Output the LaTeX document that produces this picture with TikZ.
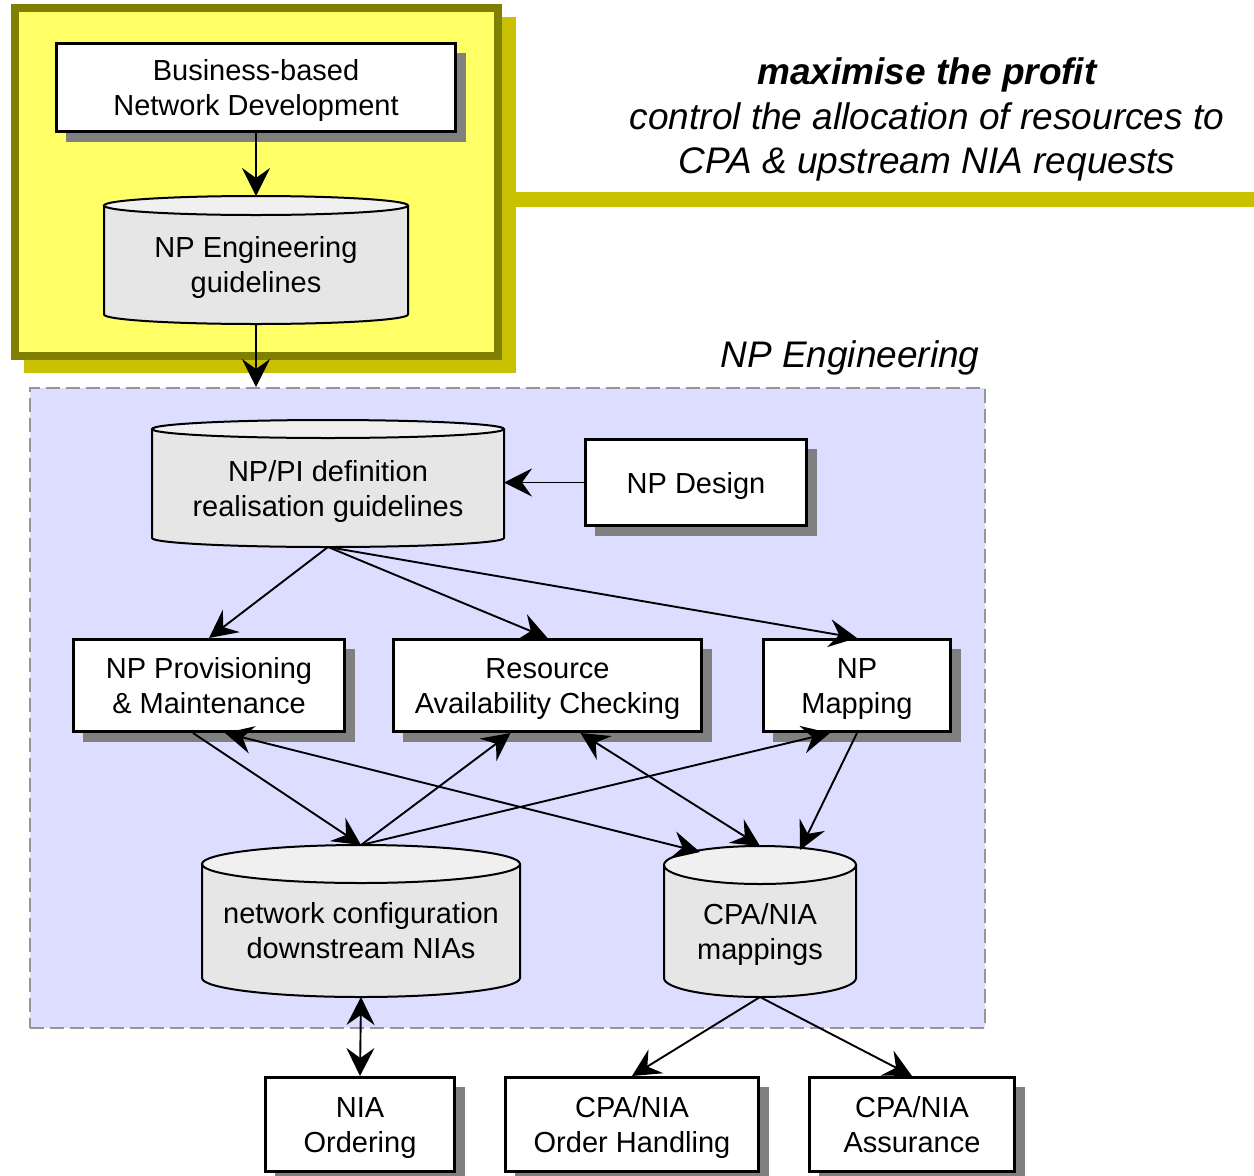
\documentclass[tikz,border=0pt]{standalone}
\usepackage{fontspec}
\setmainfont{Liberation Sans}
\usetikzlibrary{arrows.meta,shadows,calc}

\definecolor{padyellow}{RGB}{255,255,102}
\definecolor{padolive}{RGB}{128,128,0}
\definecolor{padshade}{RGB}{200,192,0}
\definecolor{engfill}{RGB}{221,221,255}
\definecolor{engdash}{RGB}{150,150,150}
\definecolor{boxshade}{RGB}{128,128,128}
\definecolor{dbbody}{RGB}{230,230,230}
\definecolor{dbtop}{RGB}{240,240,240}

% fixed first-line height and last-line depth keep every label on the same baselines
\newcommand\lnfirst{\rule{0pt}{29pt}}
\newcommand\lnlast{\rule[-8pt]{0pt}{8pt}}

\tikzset{
  boxfont/.style={font=\fontsize{29}{35}\selectfont},
  proc/.style={draw=black, line width=2.6pt, fill=white, align=center,
    inner sep=0pt, boxfont,
    drop shadow={shadow xshift=10pt, shadow yshift=-10pt, fill=boxshade, opacity=1}},
  dbarea/.style={draw=none, inner sep=0pt, outer sep=0pt},
  dblabel/.style={align=center, inner sep=0pt, boxfont},
  dbline/.style={draw=black, line width=2pt},
  engarea/.style={draw=engdash, fill=engfill, line width=2pt,
    dash pattern=on 14pt off 6pt, inner sep=0pt},
  conn/.style={line width=1.9pt, ->},
  dconn/.style={line width=1.9pt, <->},
}

% database cylinder: name, centre x, top y, bottom y, half width, ellipse radius, text
\newcommand\dbstore[7]{%
  \fill[dbbody] ({#2-#5},{-#3-#6}) -- ({#2-#5},{-#4+#6})
    arc[start angle=180, end angle=360, x radius=#5pt, y radius=#6pt]
    -- ({#2+#5},{-#3-#6})
    arc[start angle=0, end angle=180, x radius=#5pt, y radius=#6pt] -- cycle;
  \fill[dbtop] (#2,{-#3-#6}) ellipse[x radius=#5pt, y radius=#6pt];
  \draw[dbline] ({#2-#5},{-#3-#6}) -- ({#2-#5},{-#4+#6})
    arc[start angle=180, end angle=360, x radius=#5pt, y radius=#6pt]
    -- ({#2+#5},{-#3-#6});
  \draw[dbline] (#2,{-#3-#6}) ellipse[x radius=#5pt, y radius=#6pt];
  \node[dbarea, minimum width={2*#5pt}, minimum height={(#4-#3)*1pt}]
    (#1) at (#2,{-(#3+#4)/2}) {};
  \node[dblabel] (#1-text) at (#2,{-(#3+#6+#4)/2}) {\lnfirst #7\lnlast};
}

\begin{document}
\begin{tikzpicture}[x=1pt, y=1pt,
    >={Stealth[length=28pt, width=28pt, inset=10pt]}]
  \useasboundingbox (0,0) rectangle (1254,-1176);
  \clip (0,0) rectangle (1254,-1176);

  % business layer panel
  \fill[padshade] (24,-17) rectangle (516,-373);
  \fill[padshade] (500,-192) rectangle (1254,-207);
  \draw[padolive, line width=8pt, fill=padyellow] (15,-8) rectangle (498,-356);

  \node[align=center, font=\fontsize{37}{44.5}\selectfont\itshape] (goal)
    at (927,-119.5) {\textbf{maximise the profit}\\
      control the allocation of resources to\\
      CPA \& upstream NIA requests};

  % engineering area
  \node[engarea, minimum width=955pt, minimum height=640pt] (eng) at (507.5,-708) {};
  \node[anchor=base, font=\fontsize{37}{44.5}\selectfont\itshape] (engtitle)
    at (850,-367) {NP Engineering};

  % process boxes
  \node[proc, minimum width=399.4pt, minimum height=88.4pt] (biz) at (256,-87.5)
    {\lnfirst Business-based\\Network Development\lnlast};
  \node[proc, minimum width=221.4pt, minimum height=86.4pt] (design) at (696,-482.5)
    {\lnfirst NP Design\lnlast};
  \node[proc, minimum width=271.4pt, minimum height=92.4pt] (prov) at (209,-685.5)
    {\lnfirst NP Provisioning\\\& Maintenance\lnlast};
  \node[proc, minimum width=308.4pt, minimum height=92.4pt] (rac) at (547.5,-685.5)
    {\lnfirst Resource\\Availability Checking\lnlast};
  \node[proc, minimum width=187.4pt, minimum height=92.4pt] (map) at (857,-685.5)
    {\lnfirst NP\\Mapping\lnlast};
  \node[proc, minimum width=189.4pt, minimum height=94.4pt] (order) at (360,-1124.5)
    {\lnfirst NIA\\Ordering\lnlast};
  \node[proc, minimum width=253.4pt, minimum height=94.4pt] (handle) at (632,-1124.5)
    {\lnfirst CPA/NIA\\Order Handling\lnlast};
  \node[proc, minimum width=205.4pt, minimum height=94.4pt] (assure) at (912,-1124.5)
    {\lnfirst CPA/NIA\\Assurance\lnlast};

  % data stores
  \dbstore{guide}{256}{196}{324}{152}{9.5}{NP Engineering\\guidelines}
  \dbstore{npdef}{328}{420}{547}{176}{9}{NP/PI definition\\realisation guidelines}
  \dbstore{ncfg}{361}{845}{997}{159}{19}{network configuration\\downstream NIAs}
  \dbstore{cpa}{760}{846}{997}{96}{19}{CPA/NIA\\mappings}

  % connectors
  \draw[conn] (biz.south) -- (guide.north);
  \draw[conn] (guide.south) -- (guide.south |- eng.north);
  \draw[conn] (design.west) -- (design.west -| npdef.east);
  \draw[conn] (npdef.south) -- (prov.north);
  \draw[conn] (npdef.south) -- (rac.north);
  \draw[conn] (npdef.south) -- (map.north);
  \draw[conn] ($(prov.south)+(-16,0)$) -- (ncfg.north);
  \draw[conn] (ncfg.north) -- ($(rac.south)+(-37,0)$);
  \draw[conn] (ncfg.north) -- ($(map.south)+(-27,0)$);
  \draw[dconn] ($(prov.south)+(16,0)$) -- ($(cpa.north)+(-60,-6)$);
  \draw[dconn] ($(rac.south)+(33,0)$) -- (cpa.north);
  \draw[conn] (map.south) -- ($(cpa.north)+(40,-4)$);
  \draw[dconn] (ncfg.south) -- (order.north);
  \draw[conn] (cpa.south) -- (handle.north);
  \draw[conn] (cpa.south) -- (assure.north);
\end{tikzpicture}
\end{document}
